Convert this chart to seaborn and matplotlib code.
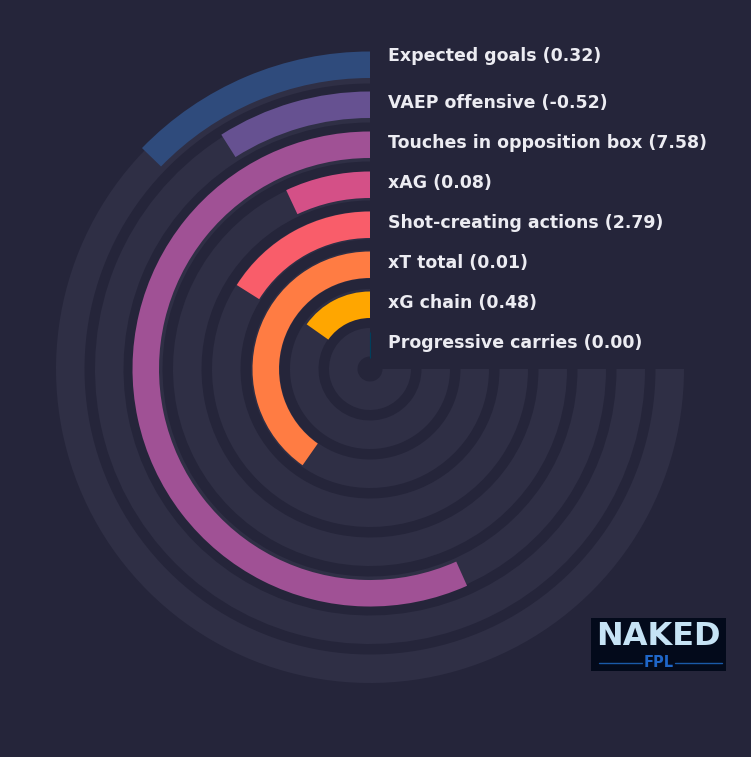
import numpy as np
import seaborn as sns
import matplotlib.pyplot as plt
from matplotlib.transforms import offset_copy

# %% data (top to bottom = outer ring to inner ring)

labels = ["Expected goals", "VAEP offensive", "Touches in opposition box", "xAG",
          "Shot-creating actions", "xT total", "xG chain", "Progressive carries"]
raw_values = [0.32, -0.52, 7.58, 0.08, 2.79, 0.01, 0.48, 0.00]
percentiles = [17.0, 12.0, 75.6, 9.3, 21.4, 53.7, 20.3, 0.0]
colors = ["#2f4b7c", "#665191", "#a05195", "#d45087",
          "#f95d6a", "#ff7c43", "#ffa600", "#003f5c"]

bg = "#25253a"
track_col = "#2f2f45"
text_col = "#ececf2"

# %% figure

sns.set_style("dark")
plt.rcParams['font.family'] = ['DejaVu Sans']

W, H = 751, 757
fig = plt.figure(figsize=(W / 100, H / 100), dpi=100, facecolor=bg)

cx, cy, R = 370, H - 369, 330
ax = fig.add_axes([(cx - R) / W, (cy - R) / H, 2 * R / W, 2 * R / H], projection='polar')
ax.patch.set_alpha(0)
ax.set_theta_zero_location('N')
ax.set_theta_direction(1)
ax.set_ylim(0, R)

n = len(labels)
full = 1.5 * np.pi
ring = n - 1 - np.arange(n)
track_bottom = 12.5 + 39 * ring
bar_bottom = 11 + 40 * ring

# background tracks
ax.bar(np.zeros(n), 28.5, width=full, bottom=track_bottom, align='edge',
       color=track_col, linewidth=0)

# value bars
widths = np.array(percentiles) / 100 * full
lw = [0.8 if p == 0 else 0 for p in percentiles]
ax.bar(np.zeros(n), 26.5, width=widths, bottom=bar_bottom, align='edge',
       color=colors, edgecolor=colors, linewidth=lw)

for i in range(n):
    dy = 9 if i == 0 else 2
    tr = offset_copy(ax.transData, fig=fig, x=18, y=dy, units='dots')
    ax.text(0, bar_bottom[i] + 13.25, f"{labels[i]} ({raw_values[i]:.2f})",
            transform=tr, ha='left', va='center', color=text_col,
            fontsize=12.5, fontweight='bold')

ax.grid(False)
ax.set_xticks([])
ax.set_yticks([])
ax.spines['polar'].set_visible(False)

# %% logo

lx0, ly0, lx1, ly1 = 591, 618, 726, 671
lax = fig.add_axes([lx0 / W, (H - ly1) / H, (lx1 - lx0) / W, (ly1 - ly0) / H])
lax.set_facecolor("#030a1b")
lax.set_xlim(0, 1)
lax.set_ylim(0, 1)
lax.set_xticks([])
lax.set_yticks([])
for s in lax.spines.values():
    s.set_visible(False)
lax.text(0.5, 0.66, "NAKED", ha='center', va='center', color="#c6e3f5",
         fontsize=23, fontweight='bold')
lax.text(0.5, 0.16, "FPL", ha='center', va='center', color="#1f66c8",
         fontsize=10.5, fontweight='bold')
lax.plot([0.06, 0.38], [0.15, 0.15], color="#1a5aa8", lw=1)
lax.plot([0.62, 0.97], [0.15, 0.15], color="#1a5aa8", lw=1)

fig.savefig("out.png", dpi=100, facecolor=bg)
